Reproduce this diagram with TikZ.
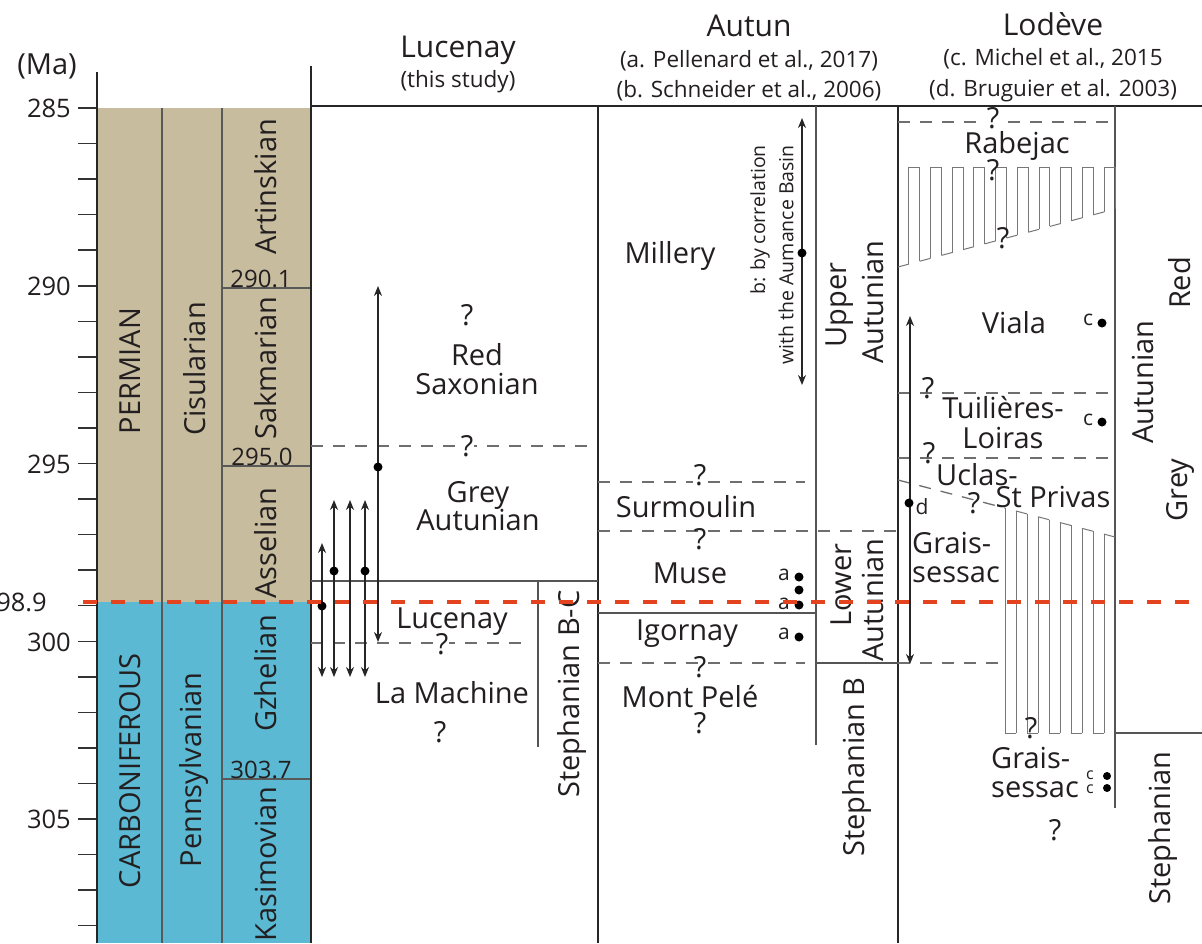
\documentclass[tikz,border=0pt]{standalone}
\usepackage{fontspec}
\setmainfont{Open Sans}
\usetikzlibrary{arrows.meta}
\definecolor{tanc}{HTML}{C8BC9F}
\definecolor{bluec}{HTML}{5BB9D3}
\definecolor{txtc}{HTML}{231F20}
\definecolor{lnc}{HTML}{555555}
\definecolor{redc}{HTML}{E4431F}
\begin{document}
\begin{tikzpicture}[x=1pt,y=-1pt,
  heavy/.style={line width=2.6pt, draw=black!85},
  thinl/.style={line width=1.3pt, draw=lnc},
  divl/.style={line width=1.1pt, draw=black!65},
  dsh/.style={line width=1.3pt, draw=lnc!85, dash pattern=on 12pt off 10pt},
  hat/.style={line width=1pt, draw=lnc!80},
  tickl/.style={line width=1.5pt, draw=black!80},
  arr/.style={line width=1.2pt, draw=black!85, {Stealth[length=10pt,width=8pt]}-{Stealth[length=10pt,width=8pt]}},
  dotn/.style={circle, fill=black, inner sep=0pt, minimum size=9pt},
  lab/.style={text=txtc, inner sep=0pt, font=\fontsize{29}{31}\selectfont},
  hdr/.style={text=txtc, inner sep=0pt, anchor=base, font=\fontsize{30}{32}\selectfont},
  sub/.style={text=txtc, inner sep=0pt, anchor=base, font=\fontsize{22.5}{24}\selectfont},
  tck/.style={text=txtc, inner sep=0pt, anchor=east, font=\fontsize{25.5}{27}\selectfont},
  agel/.style={text=txtc, inner sep=0pt, anchor=base, font=\fontsize{24}{26}\selectfont},
  sml/.style={text=txtc, inner sep=0pt, font=\fontsize{21}{23}\selectfont},
  tiny/.style={text=txtc, inner sep=0pt, font=\fontsize{16}{17}\selectfont},
  bl/.style={lab, anchor=base},
  rot/.style={lab, rotate=90}
]
\useasboundingbox (0,0) rectangle (1202,943);
\fill[white] (0,0) rectangle (1202,943);

% ---------- time scale columns ----------
\fill[tanc] (97,108) rectangle (311,602);
\fill[bluec] (97,602) rectangle (311,943);
\draw[divl] (162,108) -- (162,943);
\draw[divl] (222,108) -- (222,943);
\draw[divl] (222,288) -- (311,288);
\draw[divl] (222,466) -- (311,466);
\draw[divl] (222,779) -- (311,779);

\node[rot] (permian) at (130,371) {PERMIAN};
\node[rot] (cisu) at (195,369) {Cisularian};
\node[rot] (artin) at (266,187) {Artinskian};
\node[rot] (sakm) at (266,368) {Sakmarian};
\node[rot] (assel) at (266,543) {Asselian};
\node[rot] (carb) at (130,771) {CARBONIFEROUS};
\node[rot] (penn) at (194,770) {Pennsylvanian};
\node[rot] (gzhel) at (266,673) {Gzhelian};
\node[rot] (kasim) at (266,864) {Kasimovian};
\node[agel] (a2901) at (261,287) {290.1};
\node[agel] (a2950) at (262,465) {295.0};
\node[agel] (a3037) at (261,778) {303.7};

% ---------- axis ----------
\foreach \m in {285,...,308} {
  \draw[tickl] (78,{108+(\m-285)*35.55}) -- (97,{108+(\m-285)*35.55});
}
\node[tck] (t285) at (71,108) {285};
\node[tck] (t290) at (71,286) {290};
\node[tck] (t295) at (71,464) {295};
\node[tck] (t300) at (71,642) {300};
\node[tck] (t305) at (71,819) {305};
\node[tck] (t2989) at (47,602) {298.9};
\node[text=txtc, inner sep=0pt, anchor=base, font=\fontsize{29}{31}\selectfont] (ma) at (47,74) {(Ma)};

% ---------- frame ----------
\draw[heavy] (97,72) -- (97,943);
\draw[heavy] (311,66) -- (311,943);
\draw[heavy] (311,106) -- (1202,106);
\draw[heavy] (598,106) -- (598,943);
\draw[heavy] (898,106) -- (898,943);

% ---------- headers ----------
\node[hdr] (hluc) at (458,57) {Lucenay};
\node[sub] (hluc2) at (458,87) {(this study)};
\node[hdr] (haut) at (749,36) {Autun};
\node[sub] (haut2) at (749,67) {(a. Pellenard et al., 2017)};
\node[sub] (haut3) at (749,97) {(b. Schneider et al., 2006)};
\node[hdr] (hlod) at (1053,35) {Lodève};
\node[sub] (hlod2) at (1053,65) {(c. Michel et al., 2015};
\node[sub] (hlod3) at (1053,96) {(d. Bruguier et al. 2003)};

% ---------- Lucenay ----------
\draw[dsh] (311,446) -- (592,446);
\draw[thinl] (311,581) -- (598,581);
\draw[thinl] (538,581) -- (538,747);
\draw[dsh] (311,643) -- (530,643);
\node[bl] (lq1) at (467,325) {?};
\node[bl] (lred) at (477,365) {Red};
\node[bl] (lsax) at (477,394) {Saxonian};
\node[bl, fill=white, inner xsep=1pt] (lq2) at (467,456) {?};
\node[bl] (lgrey) at (478,502) {Grey};
\node[bl] (laut) at (478,530) {Autunian};
\node[bl] (lluc) at (452,628) {Lucenay};
\node[bl, fill=white, inner xsep=1pt] (lq3) at (442,654) {?};
\node[bl] (lmach) at (452,703) {La Machine};
\node[bl] (lq4) at (440,742) {?};
\node[rot] (lsteph) at (572,694) {Stephanian B-C};

\coordinate (A1t) at (378,286); \coordinate (A1b) at (378,642);
\draw[arr] (A1b) -- (A1t);
\node[dotn] (D1) at (378,467) {};
\coordinate (B1t) at (322,543); \coordinate (B1b) at (322,677);
\coordinate (B2t) at (334,500); \coordinate (B2b) at (334,677);
\coordinate (B3t) at (350,500); \coordinate (B3b) at (350,677);
\coordinate (B4t) at (365,500); \coordinate (B4b) at (365,677);
\draw[arr] (B1b) -- (B1t);
\draw[arr] (B2b) -- (B2t);
\draw[arr] (B3b) -- (B3t);
\draw[arr] (B4b) -- (B4t);
\node[dotn] (D2) at (322,606) {};
\node[dotn] (D3) at (334,571) {};
\node[dotn] (D4) at (365,571) {};

% ---------- Autun ----------
\draw[thinl] (816,106) -- (816,745);
\draw[dsh] (598,482) -- (805,482);
\draw[dsh] (598,531) -- (898,531);
\draw[thinl] (598,613) -- (816,613);
\draw[dsh] (598,663) -- (805,663);
\draw[thinl] (816,663) -- (898,663);

\node[bl] (mill) at (670,263) {Millery};
\coordinate (Ct) at (802,118); \coordinate (Cb) at (802,385);
\draw[arr] (Cb) -- (Ct);
\node[dotn] (D5) at (802,253) {};
\node[text=txtc, inner sep=0pt, font=\fontsize{19.5}{21}\selectfont, rotate=90, anchor=east] (corr1) at (760,145) {b: by correlation};
\node[text=txtc, inner sep=0pt, font=\fontsize{19.5}{21}\selectfont, rotate=90, anchor=east] (corr2) at (786,145) {with the Aumance Basin};
\node[rot] (upp) at (840,305) {Upper};
\node[rot] (uaut) at (873,302) {Autunian};
\node[bl, fill=white, inner xsep=1pt] (aq1) at (700,485) {?};
\node[bl] (surm) at (686,517) {Surmoulin};
\node[bl] (aq2) at (700,549) {?};
\node[bl] (muse) at (690,583) {Muse};
\node[bl] (igor) at (687,640) {Igornay};
\node[bl] (aq3) at (700,677) {?};
\node[bl] (mont) at (690,707) {Mont Pelé};
\node[bl] (aq4) at (700,733) {?};
\node[rot] (low) at (841,585) {Lower};
\node[rot] (laut2) at (873,600) {Autunian};
\node[rot] (stb) at (857,767) {Stephanian B};
\node[sml] (la1) at (784,575) {a};
\node[sml] (la2) at (784,604) {a};
\node[sml] (la3) at (784,634) {a};
\node[dotn] (D6) at (799,577) {};
\node[dotn] (D7) at (799,590) {};
\node[dotn] (D8) at (799,605) {};
\node[dotn] (D9) at (799,637) {};

% ---------- Lodeve ----------
\draw[thinl] (1115,106) -- (1115,808);
\draw[thinl] (1115,733) -- (1202,733);
\draw[dsh] (898,122) -- (1115,122);
% hatch 1 (square wave)
\foreach \i in {0,...,19} {
  \pgfmathsetmacro\xa{898+10.85*\i}
  \pgfmathsetmacro\xb{898+10.85*(\i+1)}
  \pgfmathsetmacro\ya{267-(\xa-898)*58/217}
  \pgfmathsetmacro\yb{267-(\xb-898)*58/217}
  \draw[hat] (\xb,167) -- (\xb,\yb);
  \ifodd\i
    \draw[hat] (\xa,167) -- (\xb,167);
  \else
    \draw[hat] (\xa,\ya) -- (\xb,\yb);
  \fi
}
% hatch 2
\draw[dsh] (898,480) -- (1005,508);
\foreach \i in {0,...,9} {
  \pgfmathsetmacro\xa{1005+11*\i}
  \pgfmathsetmacro\xb{1005+11*(\i+1)}
  \pgfmathsetmacro\ya{480+(\xa-898)*57/217}
  \pgfmathsetmacro\yb{480+(\xb-898)*57/217}
  \draw[hat] (\xa,\ya) -- (\xa,733);
  \ifodd\i
    \draw[hat] (\xa,\ya) -- (\xb,\yb);
  \else
    \draw[hat] (\xa,733) -- (\xb,733);
  \fi
}
\draw[dsh] (898,393) -- (1115,393);
\draw[dsh] (898,458) -- (1115,458);
\draw[dsh] (898,663) -- (1005,663);

\node[bl, fill=white, inner xsep=1pt] (oq1) at (993,128) {?};
\node[bl] (rabe) at (1017,153) {Rabejac};
\node[bl] (oq2) at (993,180) {?};
\node[bl] (oq3) at (1003,248) {?};
\node[bl] (viala) at (1014,333) {Viala};
\node[sml] (c1) at (1088,320) {c};
\node[dotn] (E1) at (1102,323) {};
\node[bl] (oq4) at (928,398) {?};
\node[bl] (tuil) at (1003,418) {Tuilières-};
\node[bl] (loir) at (1003,448) {Loiras};
\node[sml] (c2) at (1088,420) {c};
\node[dotn] (E2) at (1102,422) {};
\node[bl] (oq5) at (929,463) {?};
\node[bl] (ucl) at (977,485) {Uclas-};
\node[bl] (stpr) at (1053,507) {St Privas};
\node[bl] (oq6) at (974,513) {?};
\node[bl, anchor=base west] (grs1) at (912,553) {Grais-};
\node[bl, anchor=base west] (grs2) at (912,582) {sessac};
\node[bl] (oq7) at (1031,738) {?};
\node[bl, anchor=base west] (grs3) at (991,768) {Grais-};
\node[bl, anchor=base west] (grs4) at (991,797) {sessac};
\node[tiny] (c3) at (1090,775) {c};
\node[tiny] (c4) at (1090,789) {c};
\node[dotn, minimum size=8pt] (E3) at (1107,776) {};
\node[dotn, minimum size=8pt] (E4) at (1107,788) {};
\node[bl] (oq8) at (1055,840) {?};
\coordinate (Ft) at (910,316); \coordinate (Fb) at (910,664);
\draw[arr] (Fb) -- (Ft);
\node[dotn] (E5) at (909,503) {};
\node[sml] (dlab) at (922,507) {d};
\node[rot] (ored) at (1180,283) {Red};
\node[rot] (oaut) at (1143,382) {Autunian};
\node[rot] (ogrey) at (1180,490) {Grey};
\node[rot] (osteph) at (1163,828) {Stephanian};

% ---------- red boundary ----------
\draw[redc, line width=4pt, dash pattern=on 14pt off 14pt] (83,602) -- (1202,602);
\end{tikzpicture}
\end{document}
